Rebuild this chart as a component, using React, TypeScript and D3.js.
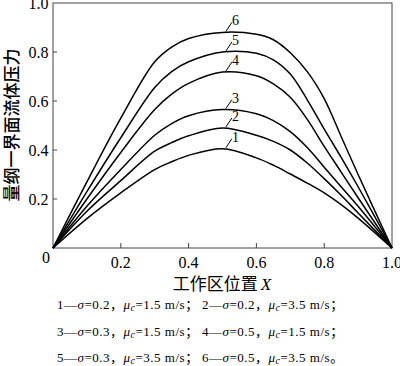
import * as React from 'react'
import * as d3 from 'd3'

// sampled positions along the working zone
const xPos = [0, 0.1, 0.2, 0.3, 0.35, 0.4, 0.5, 0.6, 0.65, 0.7, 0.75, 0.8, 0.85, 0.9, 1.0]

const curve1 = [0, 0.12, 0.225, 0.32, 0.352, 0.378, 0.405, 0.368, 0.338, 0.302, 0.265, 0.225, 0.177, 0.122, 0]
const curve2 = [0, 0.15, 0.275, 0.395, 0.43, 0.458, 0.49, 0.46, 0.435, 0.4, 0.347, 0.283, 0.215, 0.143, 0]
const curve3 = [0, 0.17, 0.32, 0.46, 0.508, 0.54, 0.565, 0.548, 0.52, 0.475, 0.41, 0.33, 0.25, 0.17, 0]
const curve4 = [0, 0.2, 0.39, 0.565, 0.628, 0.672, 0.718, 0.703, 0.67, 0.615, 0.525, 0.415, 0.31, 0.205, 0]
const curve5 = [0, 0.23, 0.45, 0.655, 0.72, 0.76, 0.8, 0.795, 0.768, 0.71, 0.605, 0.485, 0.37, 0.25, 0]
const curve6 = [0, 0.27, 0.53, 0.76, 0.82, 0.855, 0.88, 0.872, 0.85, 0.797, 0.72, 0.61, 0.455, 0.3, 0]

const series = [curve1, curve2, curve3, curve4, curve5, curve6]
const seriesLabels = ['1', '2', '3', '4', '5', '6']

const sigmas = ['0.2', '0.2', '0.3', '0.5', '0.3', '0.5']
const mus = ['1.5', '3.5', '1.5', '1.5', '3.5', '3.5']

const xTicks = [0.2, 0.4, 0.6, 0.8, 1.0]
const yTicks = [0.2, 0.4, 0.6, 0.8, 1.0]

const W = 400
const H = 366
const serif = '"Liberation Serif", "Times New Roman", serif'
const cjk = '"Noto Sans CJK SC", sans-serif'

export default function App() {
  const x = d3.scaleLinear().domain([0, 1]).range([53, 392])
  const y = d3.scaleLinear().domain([0, 1]).range([248, 3])

  const line = d3
    .line<number>()
    .x((_, i) => x(xPos[i]))
    .y((d) => y(d))
    .curve(d3.curveCatmullRom.alpha(0.5))

  const peakIdx = xPos.indexOf(0.5)

  return (
    <svg width={W} height={H} style={{ position: 'absolute', left: 0, top: 0, background: '#fff' }}>
      {/* frame */}
      <rect x={x(0)} y={y(1)} width={x(1) - x(0)} height={y(0) - y(1)} fill="none" stroke="#444" strokeWidth={1} />

      {xTicks.map((t) => (
        <g key={'x' + t}>
          {t < 1 && <line x1={x(t)} x2={x(t)} y1={y(0)} y2={y(0) - 5} stroke="#444" />}
          <text x={x(t)} y={268} textAnchor="middle" fontFamily={serif} fontSize={16}>
            {t.toFixed(1)}
          </text>
        </g>
      ))}
      {yTicks.map((t) => (
        <g key={'y' + t}>
          {t < 1 && <line x1={x(0)} x2={x(0) + 4} y1={y(t)} y2={y(t)} stroke="#444" />}
          <text x={48.5} y={y(t) + 5.5} textAnchor="end" fontFamily={serif} fontSize={16}>
            {t.toFixed(1)}
          </text>
        </g>
      ))}
      <text x={46} y={263} textAnchor="middle" fontFamily={serif} fontSize={16}>
        0
      </text>

      {series.map((s, i) => (
        <path key={i} d={line(s) ?? ''} fill="none" stroke="#000" strokeWidth={1.5} />
      ))}

      {series.map((s, i) => {
        const px = x(0.51)
        const py = y(s[peakIdx])
        return (
          <g key={'l' + i}>
            <line x1={px} y1={py - 1} x2={px + 6} y2={py - 10} stroke="#000" strokeWidth={1} />
            <text x={px + 6} y={py - 7} fontFamily={serif} fontSize={14}>
              {seriesLabels[i]}
            </text>
          </g>
        )
      })}

      {/* axis titles */}
      <text
        transform={`translate(17.5,125) rotate(-90)`}
        textAnchor="middle"
        fontFamily={cjk}
        fontSize={17}
        fontWeight={500}
      >
        量纲一界面流体压力
      </text>
      <text x={222} y={290} textAnchor="middle" fontFamily={cjk} fontSize={17}>
        工作区位置
        <tspan fontFamily={serif} fontStyle="italic" dx={3}>
          X
        </tspan>
      </text>

      {/* legend */}
      {[0, 1, 2].map((r) =>
        [0, 1].map((c) => {
          const k = r * 2 + c
          const end = k === 5 ? '。' : '；'
          return (
            <text
              key={'lg' + k}
              x={c === 0 ? 57 : 202}
              y={309 + r * 26.5}
              fontFamily={serif}
              fontSize={13}
              letterSpacing={0.5}
            >
              {seriesLabels[k]}—<tspan fontStyle="italic">σ</tspan>={sigmas[k]}
              <tspan fontFamily={cjk}>，</tspan>
              <tspan fontStyle="italic">μ</tspan>
              <tspan fontStyle="italic" fontSize={10} dy={2}>
                c
              </tspan>
              <tspan dy={-2}>={mus[k]} m/s</tspan>
              <tspan fontFamily={cjk}>{end}</tspan>
            </text>
          )
        })
      )}
    </svg>
  )
}
